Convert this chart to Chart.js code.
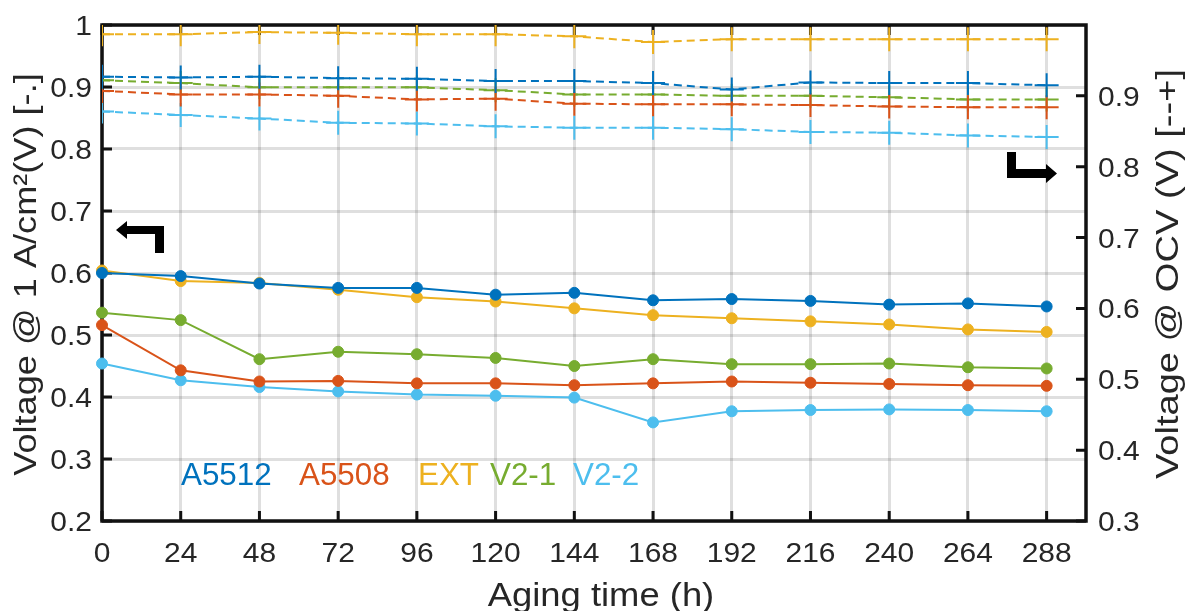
<!DOCTYPE html>
<html>
<head>
<meta charset="utf-8">
<title>Aging test voltages</title>
<script src="https://cdn.jsdelivr.net/npm/chart.js@4.4.1/dist/chart.umd.min.js"></script>
<style>
    html, body { margin: 0; padding: 0; background: #fff; }
    #wrap { width: 1187px; height: 611px; }
</style>
</head>
<body>
<div id="wrap"><canvas id="agingChart" width="1187" height="611"></canvas></div>
<script>
// x axis: aging time (h)
const agingHours = [0, 24, 48, 72, 96, 120, 144, 168, 192, 216, 240, 264, 288];
const xTicks = [0, 24, 48, 72, 96, 120, 144, 168, 192, 216, 240, 264, 288];
const xTickLabels = ['0', '24', '48', '72', '96', '120', '144', '168', '192', '216', '240', '264', '288'];

// left axis: voltage @ 1 A/cm2
const yLeftTicks = [0.2, 0.3, 0.4, 0.5, 0.6, 0.7, 0.8, 0.9, 1.0];
const yLeftTickLabels = ['0.2', '0.3', '0.4', '0.5', '0.6', '0.7', '0.8', '0.9', '1'];

// right axis: OCV
const yRightTicks = [0.3, 0.4, 0.5, 0.6, 0.7, 0.8, 0.9];
const yRightTickLabels = ['0.3', '0.4', '0.5', '0.6', '0.7', '0.8', '0.9'];

const seriesNames = ['A5512', 'A5508', 'EXT', 'V2-1', 'V2-2'];
const seriesColors = ['#0072BD', '#D95319', '#EDB120', '#77AC30', '#4DBEEE'];

// voltage at 1 A/cm2 (solid lines, left axis)
const load_A5512 = [0.600, 0.595, 0.583, 0.576, 0.576, 0.565, 0.568, 0.556, 0.558, 0.555, 0.549, 0.551, 0.546];
const load_A5508 = [0.516, 0.443, 0.425, 0.426, 0.422, 0.422, 0.419, 0.422, 0.425, 0.423, 0.421, 0.419, 0.418];
const load_EXT   = [0.604, 0.587, 0.584, 0.573, 0.561, 0.554, 0.543, 0.532, 0.527, 0.522, 0.517, 0.509, 0.505];
const load_V21   = [0.536, 0.524, 0.461, 0.473, 0.469, 0.463, 0.450, 0.461, 0.453, 0.453, 0.454, 0.448, 0.446];
const load_V22   = [0.454, 0.427, 0.416, 0.409, 0.404, 0.402, 0.399, 0.359, 0.377, 0.379, 0.380, 0.379, 0.377];

// open circuit voltage (dashed lines, right axis)
const ocv_A5512 = [0.927, 0.926, 0.927, 0.925, 0.924, 0.921, 0.921, 0.918, 0.909, 0.919, 0.918, 0.918, 0.915];
const ocv_A5508 = [0.907, 0.902, 0.902, 0.900, 0.895, 0.896, 0.889, 0.888, 0.888, 0.887, 0.885, 0.884, 0.884];
const ocv_EXT   = [0.987, 0.987, 0.990, 0.989, 0.987, 0.987, 0.984, 0.976, 0.980, 0.980, 0.980, 0.980, 0.980];
const ocv_V21   = [0.922, 0.918, 0.912, 0.912, 0.912, 0.908, 0.902, 0.902, 0.900, 0.900, 0.898, 0.895, 0.895];
const ocv_V22   = [0.878, 0.873, 0.868, 0.862, 0.861, 0.857, 0.855, 0.855, 0.853, 0.849, 0.848, 0.844, 0.842];

const loadSeries = [load_A5512, load_A5508, load_EXT, load_V21, load_V22];
const ocvSeries = [ocv_A5512, ocv_A5508, ocv_EXT, ocv_V21, ocv_V22];

const FONT = "'Liberation Sans', Arial, Helvetica, sans-serif";
const TEXT_COLOR = '#262626';
const AXIS_COLOR = '#111111';

function toPoints(values) {
    return agingHours.map((h, i) => ({ x: h, y: values[i] }));
}

// draw text with an optional horizontal stretch and rotation
function drawText(ctx, text, x, y, opts) {
    ctx.save();
    ctx.translate(x, y);
    if (opts.rotate) ctx.rotate(opts.rotate);
    ctx.scale(opts.stretch || 1, 1);
    ctx.font = opts.size + 'px ' + FONT;
    ctx.fillStyle = opts.color || TEXT_COLOR;
    ctx.textAlign = opts.align || 'left';
    ctx.textBaseline = 'alphabetic';
    ctx.fillText(text, 0, 0);
    ctx.restore();
}

const datasets = [];
seriesNames.forEach((name, i) => {
    datasets.push({
        label: name + ' OCV',
        data: toPoints(ocvSeries[i]),
        yAxisID: 'y2',
        borderColor: seriesColors[i],
        borderWidth: 2,
        borderDash: [8, 5],
        pointStyle: 'cross',
        pointRadius: 12,
        pointBorderWidth: 2,
        pointBorderColor: seriesColors[i],
        tension: 0,
        clip: { left: 0, top: 0, right: 20, bottom: 20 }
    });
});
seriesNames.forEach((name, i) => {
    datasets.push({
        label: name + ' 1 A/cm2',
        data: toPoints(loadSeries[i]),
        yAxisID: 'y',
        borderColor: seriesColors[i],
        borderWidth: 2,
        pointStyle: 'circle',
        pointRadius: 5.5,
        pointBorderWidth: 1,
        pointBackgroundColor: seriesColors[i],
        pointBorderColor: seriesColors[i],
        tension: 0,
        clip: false
    });
});

// box, inward tick marks and tick labels (drawn under the data, like the original)
const axesPlugin = {
    id: 'axesFrame',
    beforeDatasetsDraw(chart) {
        const ctx = chart.ctx;
        const { left, right, top, bottom } = chart.chartArea;
        const xs = chart.scales.x, ys = chart.scales.y, ys2 = chart.scales.y2;
        const tickLen = 10;

        ctx.save();
        ctx.strokeStyle = AXIS_COLOR;
        ctx.lineWidth = 3;
        ctx.beginPath();
        xTicks.forEach(v => {
            const px = xs.getPixelForValue(v);
            ctx.moveTo(px, bottom); ctx.lineTo(px, bottom - tickLen);
            ctx.moveTo(px, top); ctx.lineTo(px, top + tickLen);
        });
        yLeftTicks.forEach(v => {
            const py = ys.getPixelForValue(v);
            ctx.moveTo(left, py); ctx.lineTo(left + tickLen, py);
        });
        yRightTicks.forEach(v => {
            const py = ys2.getPixelForValue(v);
            ctx.moveTo(right, py); ctx.lineTo(right - tickLen, py);
        });
        ctx.stroke();

        ctx.lineWidth = 3.5;
        ctx.strokeRect(left, top, right - left, bottom - top);
        ctx.restore();

        // tick labels
        const tickSize = 28, tickStretch = 1.07;
        xTicks.forEach((v, i) => {
            drawText(ctx, xTickLabels[i], xs.getPixelForValue(v), bottom + 41,
                { size: tickSize, stretch: tickStretch, align: 'center' });
        });
        yLeftTicks.forEach((v, i) => {
            drawText(ctx, yLeftTickLabels[i], left - 10, ys.getPixelForValue(v) + 10,
                { size: tickSize, stretch: tickStretch, align: 'right' });
        });
        yRightTicks.forEach((v, i) => {
            drawText(ctx, yRightTickLabels[i], right + 12, ys2.getPixelForValue(v) + 10,
                { size: tickSize, stretch: tickStretch, align: 'left' });
        });

        // axis titles
        drawText(ctx, 'Aging time (h)', (left + right) / 2 + 7, 606,
            { size: 34, stretch: 1.07, align: 'center' });
        drawText(ctx, 'Voltage @ 1 A/cm\u00B2(V) [-.]', 36, 274.5,
            { size: 32, stretch: 1.13, align: 'center', rotate: -Math.PI / 2 });
        drawText(ctx, 'Voltage @ OCV (V) [--+]', 1178, 274,
            { size: 32, stretch: 1.19, align: 'center', rotate: -Math.PI / 2 });
    },
    afterDatasetsDraw(chart) {
        const ctx = chart.ctx;

        // coloured series names inside the plot
        const nameX = [181, 299, 418, 490, 573];
        seriesNames.forEach((name, i) => {
            drawText(ctx, name, nameX[i], 485, { size: 32, stretch: 0.98, color: seriesColors[i] });
        });

        // arrows pointing to the axis each line group belongs to
        ctx.save();
        ctx.fillStyle = '#000';
        ctx.beginPath();
        ctx.moveTo(116, 230);
        ctx.lineTo(127, 221);
        ctx.lineTo(127, 226);
        ctx.lineTo(164, 226);
        ctx.lineTo(164, 253);
        ctx.lineTo(155, 253);
        ctx.lineTo(155, 234);
        ctx.lineTo(127, 234);
        ctx.lineTo(127, 239);
        ctx.closePath();
        ctx.fill();

        ctx.beginPath();
        ctx.moveTo(1007, 152);
        ctx.lineTo(1016, 152);
        ctx.lineTo(1016, 169);
        ctx.lineTo(1046, 169);
        ctx.lineTo(1046, 164);
        ctx.lineTo(1057, 173.5);
        ctx.lineTo(1046, 183);
        ctx.lineTo(1046, 178);
        ctx.lineTo(1007, 178);
        ctx.closePath();
        ctx.fill();
        ctx.restore();
    }
};

const gridColor = 'rgba(38, 38, 38, 0.15)';

new Chart(document.getElementById('agingChart').getContext('2d'), {
    type: 'line',
    data: { datasets: datasets },
    options: {
        responsive: false,
        animation: false,
        devicePixelRatio: 1,
        layout: { padding: { top: 25, left: 0, right: 0, bottom: 0 } },
        plugins: {
            legend: { display: false },
            tooltip: { enabled: false }
        },
        scales: {
            x: {
                type: 'linear',
                position: 'bottom',
                min: 0,
                max: 300,
                afterBuildTicks: s => { s.ticks = xTicks.map(v => ({ value: v })); },
                afterFit: s => { s.height = 90; },
                ticks: { display: false },
                grid: { color: gridColor, lineWidth: 3, drawTicks: false },
                border: { display: false }
            },
            y: {
                type: 'linear',
                position: 'left',
                min: 0.2,
                max: 1.0,
                afterBuildTicks: s => { s.ticks = yLeftTicks.map(v => ({ value: v })); },
                afterFit: s => { s.width = 102; },
                ticks: { display: false },
                grid: { color: gridColor, lineWidth: 3, drawTicks: false },
                border: { display: false }
            },
            y2: {
                type: 'linear',
                position: 'right',
                min: 0.3,
                max: 1.0,
                afterBuildTicks: s => { s.ticks = yRightTicks.map(v => ({ value: v })); },
                afterFit: s => { s.width = 101; },
                ticks: { display: false },
                grid: { display: false, drawTicks: false },
                border: { display: false }
            }
        }
    },
    plugins: [axesPlugin]
});
</script>
</body>
</html>
